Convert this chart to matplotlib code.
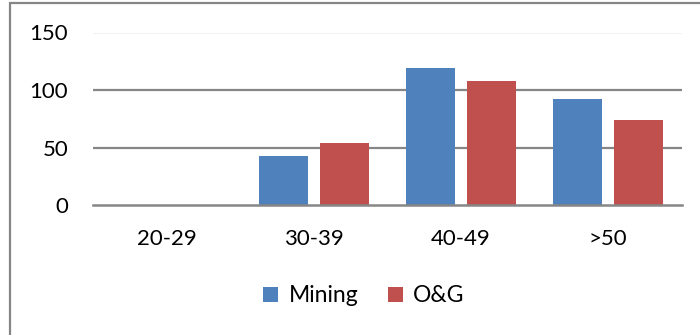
import numpy as np
import matplotlib.pyplot as plt
from matplotlib.patches import Rectangle

plt.rcParams['font.family'] = ['Lato', 'DejaVu Sans']

groups = ['20-29', '30-39', '40-49', '>50']
mining = [0, 43, 119, 92]
og = [0, 54, 108, 74]

fig = plt.figure(figsize=(7, 3.35), dpi=100)
ax = fig.add_axes([93.3/700, 1-205.5/335, (681.7-93.3)/700, 173/335])

x = np.arange(len(groups))
w = 0.335
ax.bar(x - 0.208, mining, w, color='#4F81BD', label='Mining', zorder=3)
ax.bar(x + 0.208, og, w, color='#C0504D', label='O&G', zorder=3)

ax.set_xlim(-0.5, 3.5)
ax.set_ylim(0, 150)
ax.set_yticks([0, 50, 100, 150])
ax.set_xticks(x)
ax.set_xticklabels(groups)
for v in [50, 100, 150]:
    ax.axhline(v, color='#868686', lw=1.6, zorder=1)
ax.axhline(0, color='#868686', lw=1.8, zorder=4, clip_on=False)
for s in ax.spines.values():
    s.set_visible(False)
ax.tick_params(axis='y', length=0, pad=18, labelsize=16)
ax.tick_params(axis='x', length=0, pad=17, labelsize=16)

fig.legend(loc='center', bbox_to_anchor=(364/700, 1-296/335), ncol=2, frameon=False,
           fontsize=16.5, handlelength=0.65, handleheight=0.65, handletextpad=0.45,
           columnspacing=1.3)

# outer chart border
fig.patches.append(Rectangle((10/700, -0.1), 1.1, 1-3/335+0.1, transform=fig.transFigure,
                             fill=False, edgecolor='#868686', lw=1.6, figure=fig))

fig.savefig('out.png', dpi=100)
